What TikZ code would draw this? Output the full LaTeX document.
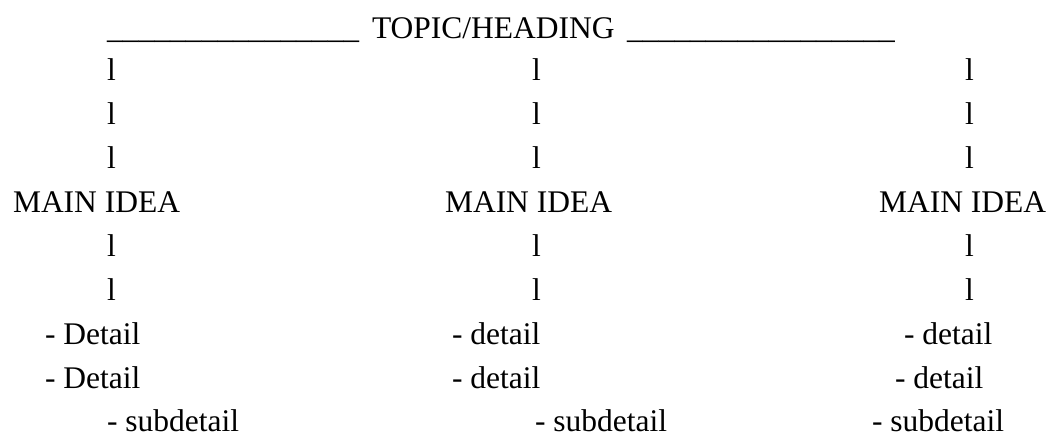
\documentclass[tikz,border=0pt]{standalone}
\usepackage{fontspec}
\setmainfont{Liberation Serif}
\begin{document}
\begin{tikzpicture}[x=1pt,y=-1pt,
  txt/.style={anchor=base west,inner sep=0pt,outer sep=0pt,font=\fontsize{31.5}{38}\selectfont}]
\useasboundingbox (0,0) rectangle (1064,436);
% heading
\node[txt] (hl) at (107,39) {\_\_\_\_\_\_\_\_\_\_\_\_\_\_\_\_};
\node[txt] (head) at (372,39) {TOPIC/HEADING};
\node[txt] (hr) at (627,39) {\_\_\_\_\_\_\_\_\_\_\_\_\_\_\_\_\_};
% column 1
\node[txt] (a1) at (107,81) {l};
\node[txt] (a2) at (107,124) {l};
\node[txt] (a3) at (107,168) {l};
\node[txt] (am) at (13,212) {MAIN IDEA};
\node[txt] (a4) at (107,256) {l};
\node[txt] (a5) at (107,300) {l};
\node[txt] (ad1) at (45,344) {- Detail};
\node[txt] (ad2) at (45,388) {- Detail};
\node[txt] (as) at (107,431) {- subdetail};
% column 2
\node[txt] (b1) at (532,81) {l};
\node[txt] (b2) at (532,124) {l};
\node[txt] (b3) at (532,168) {l};
\node[txt] (bm) at (445,212) {MAIN IDEA};
\node[txt] (b4) at (532,256) {l};
\node[txt] (b5) at (532,300) {l};
\node[txt] (bd1) at (452,344) {- detail};
\node[txt] (bd2) at (452,388) {- detail};
\node[txt] (bs) at (535,431) {- subdetail};
% column 3
\node[txt] (c1) at (965,81) {l};
\node[txt] (c2) at (965,124) {l};
\node[txt] (c3) at (965,168) {l};
\node[txt] (cm) at (879,212) {MAIN IDEA};
\node[txt] (c4) at (965,256) {l};
\node[txt] (c5) at (965,300) {l};
\node[txt] (cd1) at (904,344) {- detail};
\node[txt] (cd2) at (895,388) {- detail};
\node[txt] (cs) at (872,431) {- subdetail};
\end{tikzpicture}
\end{document}
